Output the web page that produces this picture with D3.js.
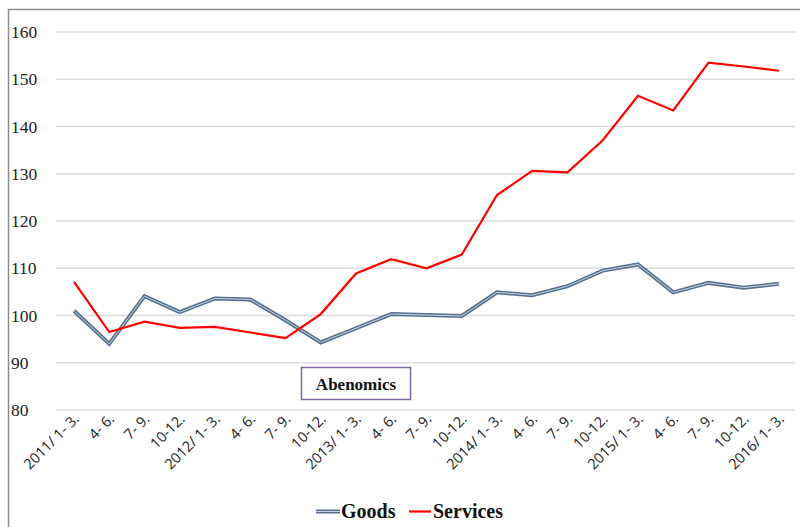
<!DOCTYPE html>
<html>
<head>
<meta charset="utf-8">
<script src="https://cdn.jsdelivr.net/npm/d3@7"></script>
<style>
  html, body { margin: 0; padding: 0; background: #fff; }
  svg { display: block; }
</style>
</head>
<body>
<svg id="chart" width="800" height="527"></svg>
<script>
// Quarterly index (2011/1-3 .. 2016/1-3)
const quarters = [
  "2011/ 1- 3.", "4- 6.", "7- 9.", "10-12.",
  "2012/ 1- 3.", "4- 6.", "7- 9.", "10-12.",
  "2013/ 1- 3.", "4- 6.", "7- 9.", "10-12.",
  "2014/ 1- 3.", "4- 6.", "7- 9.", "10-12.",
  "2015/ 1- 3.", "4- 6.", "7- 9.", "10-12.",
  "2016/ 1- 3."
];
const goods = [
  101.0, 94.0, 104.1, 100.7,
  103.6, 103.4, 99.0, 94.3,
  97.3, 100.3, 100.1, 99.9,
  104.9, 104.3, 106.2, 109.5,
  110.8, 104.9, 106.9, 105.9,
  106.7
];
const services = [
  107.1, 96.5, 98.7, 97.4,
  97.6, 96.4, 95.2, 100.3,
  108.9, 111.9, 110.0, 112.9,
  125.5, 130.6, 130.3, 137.1,
  146.5, 143.4, 153.5, 152.7,
  151.8
];
const yTicks = [80, 90, 100, 110, 120, 130, 140, 150, 160];
const annotation = "Abenomics";
const seriesNames = ["Goods", "Services"];

const SERIF = "'Liberation Serif', 'Times New Roman', serif";
const SANS = "'Open Sans', 'Liberation Sans', sans-serif";

const svg = d3.select("#chart");

// Outer frame (top and left edges visible)
svg.append("rect")
  .attr("x", 8.5).attr("y", 9.5)
  .attr("width", 820).attr("height", 600)
  .attr("fill", "none")
  .attr("stroke", "#8c8c8c")
  .attr("stroke-width", 1.5);

const x = d3.scalePoint()
  .domain(d3.range(quarters.length))
  .range([74, 779]);

const y = d3.scaleLinear()
  .domain([80, 160])
  .range([410, 32]);

// Horizontal gridlines
svg.append("g")
  .selectAll("line")
  .data(yTicks)
  .join("line")
  .attr("x1", 56).attr("x2", 795)
  .attr("y1", d => y(d)).attr("y2", d => y(d))
  .attr("stroke", "#dcdcdc")
  .attr("stroke-width", 1.3);

// Y axis labels
svg.append("g")
  .selectAll("text")
  .data(yTicks)
  .join("text")
  .attr("x", 11)
  .attr("y", d => y(d) + 6)
  .style("font-family", SERIF)
  .style("font-size", "17.5px")
  .attr("fill", "#222")
  .text(d => d);

// X axis labels, rotated
svg.append("g")
  .selectAll("text")
  .data(quarters)
  .join("text")
  .attr("transform", (d, i) => `translate(${x(i) + 6},${420}) rotate(-45)`)
  .attr("text-anchor", "end")
  .style("font-family", SANS)
  .style("font-size", "14.5px")
  .attr("fill", "#222")
  .text(d => d);

const line = d3.line()
  .x((d, i) => x(i))
  .y(d => y(d));

// Goods: double-stroke line
svg.append("path")
  .datum(goods)
  .attr("d", line)
  .attr("fill", "none")
  .attr("stroke", "#55708f")
  .attr("stroke-width", 4);
svg.append("path")
  .datum(goods)
  .attr("d", line)
  .attr("fill", "none")
  .attr("stroke", "#c9d3e0")
  .attr("stroke-width", 1);

// Services
svg.append("path")
  .datum(services)
  .attr("d", line)
  .attr("fill", "none")
  .attr("stroke", "#ff0000")
  .attr("stroke-width", 2.2);

// Annotation box
const box = svg.append("g");
box.append("rect")
  .attr("x", 301.5).attr("y", 367.5)
  .attr("width", 109).attr("height", 32)
  .attr("fill", "#fff")
  .attr("stroke", "#7f68a0")
  .attr("stroke-width", 1.5);
box.append("text")
  .attr("x", 356).attr("y", 389.5)
  .attr("text-anchor", "middle")
  .style("font-family", SERIF)
  .style("font-weight", "bold")
  .style("font-size", "17px")
  .attr("fill", "#111")
  .text(annotation);

// Legend
const legend = svg.append("g");
legend.append("line")
  .attr("x1", 316).attr("x2", 340).attr("y1", 511.5).attr("y2", 511.5)
  .attr("stroke", "#55708f").attr("stroke-width", 4);
legend.append("line")
  .attr("x1", 316).attr("x2", 340).attr("y1", 511.5).attr("y2", 511.5)
  .attr("stroke", "#c9d3e0").attr("stroke-width", 1);
legend.append("text")
  .attr("x", 341).attr("y", 518)
  .style("font-family", SERIF)
  .style("font-weight", "bold")
  .style("font-size", "20px")
  .attr("fill", "#111")
  .text(seriesNames[0]);
legend.append("line")
  .attr("x1", 409).attr("x2", 431).attr("y1", 511.5).attr("y2", 511.5)
  .attr("stroke", "#ff0000").attr("stroke-width", 2.2);
legend.append("text")
  .attr("x", 433).attr("y", 518)
  .style("font-family", SERIF)
  .style("font-weight", "bold")
  .style("font-size", "20px")
  .attr("fill", "#111")
  .text(seriesNames[1]);
</script>
</body>
</html>
